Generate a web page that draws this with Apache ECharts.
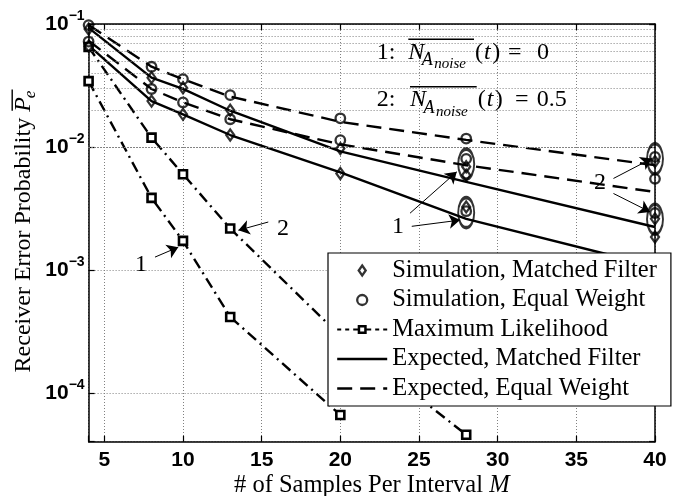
<!DOCTYPE html>
<html><head><meta charset="utf-8">
<script src="https://cdn.jsdelivr.net/npm/echarts@6/dist/echarts.min.js"></script>
<style>html,body{margin:0;padding:0;background:#fff}#c{width:681px;height:496px}</style>
</head><body><div id="c"></div>
<script>
// ---------------- data ----------------
const M = [4, 8, 10, 13, 20, 28, 40];
// expected (analytical) curves
const expEW2 = [0.098, 0.045, 0.0355, 0.0257, 0.016, 0.0114, 0.0071];
const expMF2 = [0.093, 0.0366, 0.0297, 0.0197, 0.0092, 0.0052, 0.00223];
const expEW1 = [0.073, 0.0296, 0.023, 0.0168, 0.0105, 0.0071, 0.0043];
const expMF1 = [0.067, 0.0236, 0.0184, 0.0125, 0.0062, 0.0026, 0.00107];
// maximum likelihood curves
const mlM1 = [4, 8, 10, 13, 20];
const ml1 = [0.0343, 0.00385, 0.00172, 0.000414, 0.000066];
const mlM2 = [4, 8, 10, 13, 20, 28];
const ml2 = [0.065, 0.0119, 0.006, 0.00217, 0.00029, 0.0000456];
// simulation markers
const simEW2 = [0.098, 0.0449, 0.0356, 0.0264, 0.0171, 0.0117, 0.0083];
const simEW1 = [0.072, 0.0296, 0.023, 0.0168, 0.01135, 0.008, 0.0055];
const simMF2 = [0.091, 0.0366, 0.0303, 0.0199, 0.0097, 0.0069, 0.0076];
const simMF1 = [0.066, 0.0236, 0.0184, 0.0125, 0.00608, 0.0059, 0.0026];
const extraM = [28, 40];
const simEWx = [0.0030, 0.0029];
const simMFx = [0.00325, 0.00185];
// ellipse annotations
const ellM = [28, 28, 40, 40];
const ellV = [0.00725, 0.00292, 0.0080, 0.00258];
// arrows: from [M, P] to [M, P]
const arrowsFrom = [[24.43, 2.89e-3], [24.54, 2.26e-3], [37.36, 5.54e-3], [37.36, 4.18e-3], [15.42, 2.45e-3], [8.22, 1.27e-3]];
const arrowsTo   = [[27.4, 6.27e-3], [27.61, 2.54e-3], [39.8, 8.05e-3], [39.69, 2.96e-3], [13.52, 2.1e-3], [9.7, 1.53e-3]];
const arrowLabelText = ['1', '2', '2', '1'];
const arrowLabelPos = [[23.67, 2.26e-3], [36.51, 5.16e-3], [16.36, 2.16e-3], [7.33, 1.11e-3]];
// tick labels
const xTickLabels = [5, 10, 15, 20, 25, 30, 35, 40];
const yTickExps = [-4, -3, -2, -1];
const legendNames = ['Simulation, Matched Filter', 'Simulation, Equal Weight', 'Maximum Likelihood', 'Expected, Matched Filter', 'Expected, Equal Weight'];

// ---------------- helpers ----------------
const SERIF = '"Liberation Serif", "Times New Roman", serif';
const SANS = '"Liberation Sans", Arial, Helvetica, sans-serif';
const pair = (xs, ys) => xs.map((x, i) => [x, ys[i]]);
const minorGrid = [];
for (let d = -5; d <= -2; d++) for (let k = 2; k <= 9; k++) { const v = k * Math.pow(10, d); if (v > 4e-5 * 1.0001 && v < 0.1) minorGrid.push(+v.toPrecision(3)); }
const dotted = { color: '#808080', width: 1, type: [1, 2] };
const hollow = { color: 'rgba(0,0,0,0)', borderColor: '#000', borderWidth: 2.3 };

const ctx = document.createElement('canvas').getContext('2d');
function tw(text, size, italic) { ctx.font = (italic ? 'italic ' : '') + 'normal ' + size + 'px ' + SERIF; return ctx.measureText(text).width; }
function txt(text, x, base, size, italic) {
  return { type: 'text', x: x, y: base - 0.34 * size, silent: true, z: 100,
    style: { text: text, fontFamily: SERIF, fontSize: size, fontStyle: italic ? 'italic' : 'normal', fill: '#000', align: 'left', verticalAlign: 'middle' } };
}
function hline(x1, x2, y) { return { type: 'line', silent: true, z: 100, shape: { x1: x1, y1: y, x2: x2, y2: y }, style: { stroke: '#000', lineWidth: 1.4 } }; }

// annotation text (two formula lines)
function formulaLine(label, base, nx, parenX, eqX, valX, valText) {
  const els = [];
  els.push(txt(label, 376.7, base, 24, false));
  els.push(txt('N', nx, base, 24, true));
  els.push(txt('A', nx + 13.5, base + 6, 18, true));
  els.push(txt('noise', nx + 26, base + 8.5, 15, true));
  els.push(hline(nx, parenX - 1, base - 21.5));
  let x = parenX;
  els.push(txt('(', x, base, 24, false)); x += tw('(', 24, false) + 1;
  els.push(txt('t', x, base, 24, true)); x += tw('t', 24, true) + 1.5;
  els.push(txt(')', x, base, 24, false));
  els.push(txt('=', eqX, base, 24, false));
  els.push(txt(valText, valX, base, 24, false));
  return els;
}

// y axis title (rotated)
const yt1 = 'Receiver Error Probability ';
const w1 = tw(yt1, 24, false), wP = tw('P', 24, true), we = tw('e', 17, true);
const Wy = w1 + wP + we;
const yTitle = {
  type: 'group', x: 31.7, y: 231 + Wy / 2, rotation: Math.PI / 2, silent: true,
  children: [
    txt(yt1, 0, 0, 24, false),
    txt('P', w1, 0, 24, true),
    txt('e', w1 + wP - 1, 5, 17, true),
    hline(w1 + 1, w1 + wP + we, -19.5)
  ]
};

const graphics = [yTitle].concat(
  formulaLine('1:', 60.7, 408.3, 475, 508, 537, '0'),
  formulaLine('2:', 108.3, 410, 477.7, 515, 536.7, '0.5')
);

// legend icons
const mlIcon = 'path://M0,4L4,4L4,6L0,6Z M8,4L12,4L12,6L8,6Z M16,4L20.5,4L20.5,6L16,6Z ' +
  'M20.5,0.5L29.5,0.5L29.5,9.5L20.5,9.5Z M23,3L23,7L27,7L27,3Z ' +
  'M29.5,4L34,4L34,6L29.5,6Z M38,4L42,4L42,6L38,6Z M46,4L50,4L50,6L46,6Z';
const diamondIcon = 'path://M0,-10L7,0L0,10L-7,0Z';

// ---------------- chart ----------------
const chart = echarts.init(document.getElementById('c'), null, { renderer: 'canvas' });
const axisLine = { show: true, lineStyle: { color: '#000', width: 1.5 } };
const tick = { show: true, inside: true, length: 6, lineStyle: { color: '#000', width: 1.2 } };

const expSeries = (name, xs, ys, dashed) => ({
  type: 'line', name: name, data: pair(xs, ys), symbol: 'none', clip: false, z: 3,
  lineStyle: { color: '#000', width: 2.4, type: dashed ? [15, 8] : 'solid' }
});
const mlSeries = (xs, ys) => ({
  type: 'line', name: 'Maximum Likelihood', data: pair(xs, ys), symbol: 'rect', symbolSize: 8, clip: false, z: 4,
  lineStyle: { color: '#000', width: 2.4, type: [11, 5, 2, 5] },
  itemStyle: { color: '#fff', borderColor: '#000', borderWidth: 2.6 }
});

const option = {
  animation: false,
  backgroundColor: '#fff',
  grid: { left: 88.6, right: 26, top: 24, bottom: 54.3, show: false, containLabel: false, outerBoundsMode: 'none' },
  xAxis: [{
    type: 'value', min: 4, max: 40, splitNumber: 7, position: 'bottom',
    axisLine: axisLine, axisTick: tick,
    axisLabel: { formatter: v => xTickLabels.includes(v) ? String(v) : '', fontFamily: SANS, fontWeight: 'bold', fontSize: 21, color: '#000', margin: 8, lineHeight: 22 },
    splitLine: { show: true, lineStyle: dotted },
    name: '{a|# of Samples Per Interval }{m|M}', nameLocation: 'middle', nameGap: 32, nameMoveOverlap: false,
    nameTextStyle: { rich: {
      a: { fontFamily: SERIF, fontSize: 24.5, color: '#000', lineHeight: 24 },
      m: { fontFamily: SERIF, fontSize: 24.5, fontStyle: 'italic', color: '#000', lineHeight: 24 } } }
  }, {
    type: 'value', min: 4, max: 40, splitNumber: 7, position: 'top',
    axisLine: axisLine, axisTick: tick, axisLabel: { show: false }, splitLine: { show: false }
  }],
  yAxis: [{
    type: 'log', logBase: 10, min: 4e-5, max: 0.1, position: 'left',
    axisLine: axisLine, axisTick: tick,
    axisLabel: {
      margin: 4,
      formatter: v => { const l = Math.log10(v); const e = Math.round(l); if (Math.abs(l - e) > 1e-6 || !yTickExps.includes(e)) return ''; return '{b|10}{s|\u2212' + (-e) + '}'; },
      rich: {
        b: { fontFamily: SANS, fontWeight: 'bold', fontSize: 21, color: '#000', lineHeight: 30 },
        s: { fontFamily: SANS, fontWeight: 'bold', fontSize: 14, color: '#000', lineHeight: 14, verticalAlign: 'top' }
      }
    },
    splitLine: { show: true, lineStyle: dotted }
  }, {
    type: 'log', logBase: 10, min: 4e-5, max: 0.1, position: 'right',
    axisLine: axisLine, axisTick: tick, axisLabel: { show: false }, splitLine: { show: false }
  }],
  legend: {
    orient: 'vertical', left: 328, top: 253, z: 20,
    backgroundColor: '#fff', borderColor: '#000', borderWidth: 1.2, borderRadius: 0,
    padding: [5, 14, 5, 8], itemGap: 4.5, itemWidth: 50, itemHeight: 10,
    selectedMode: false, symbolKeepAspect: true,
    textStyle: { fontFamily: SERIF, fontSize: 24.5, color: '#000', lineHeight: 24 },
    data: [
      { name: legendNames[0], icon: diamondIcon, itemStyle: hollow },
      { name: legendNames[1], icon: 'circle', itemStyle: hollow },
      { name: legendNames[2], icon: mlIcon, itemStyle: { color: '#000', borderWidth: 0 } },
      { name: legendNames[3], itemStyle: { color: 'rgba(0,0,0,0)', borderColor: 'rgba(0,0,0,0)', borderWidth: 0 }, lineStyle: { color: '#000', width: 2.4, type: 'solid' } },
      { name: legendNames[4], itemStyle: { color: 'rgba(0,0,0,0)', borderColor: 'rgba(0,0,0,0)', borderWidth: 0 }, lineStyle: { color: '#000', width: 2.4, type: [15, 8] } }
    ]
  },
  graphic: graphics,
  series: [
    { type: 'line', name: 'minorgrid', data: [], silent: true, z: 1,
      markLine: { silent: true, symbol: 'none', animation: false, label: { show: false }, lineStyle: dotted,
        emphasis: { disabled: true }, data: minorGrid.map(v => ({ yAxis: v })) } },
    expSeries(legendNames[4], M, expEW2, true),
    expSeries(legendNames[3], M, expMF2, false),
    expSeries(legendNames[4], M, expEW1, true),
    expSeries(legendNames[3], M, expMF1, false),
    mlSeries(mlM1, ml1),
    mlSeries(mlM2, ml2),
    { type: 'scatter', name: legendNames[0], clip: false, z: 5, symbol: 'diamond', symbolSize: [8, 11], itemStyle: hollow,
      data: pair(M, simMF2).concat(pair(M, simMF1), pair(extraM, simMFx)) },
    { type: 'scatter', name: legendNames[1], clip: false, z: 5, symbol: 'circle', symbolSize: 9.5, itemStyle: hollow,
      data: pair(M, simEW2).concat(pair(M, simEW1), pair(extraM, simEWx)) },
    { type: 'scatter', name: 'ellipses', clip: false, z: 6, symbol: 'circle', symbolSize: [16, 30],
      itemStyle: { color: 'rgba(0,0,0,0)', borderColor: '#000', borderWidth: 2.6 }, data: pair(ellM, ellV) },
    { type: 'line', name: 'annotations', data: [], silent: true, z: 7,
      markLine: { silent: true, animation: false, symbol: ['none', 'arrow'], symbolSize: 11, label: { show: false },
        lineStyle: { color: '#000', width: 1, type: 'solid' }, emphasis: { disabled: true },
        data: arrowsFrom.map((f, i) => [{ coord: f }, { coord: arrowsTo[i] }]) },
      markPoint: { silent: true, animation: false, symbol: 'circle', symbolSize: 1, itemStyle: { color: 'rgba(0,0,0,0)' },
        label: { show: true, position: 'inside', formatter: p => p.name, fontFamily: SERIF, fontSize: 24, color: '#000' },
        data: arrowLabelPos.map((p, i) => ({ name: arrowLabelText[i], coord: p })) } }
  ]
};
chart.setOption(option);
</script>
</body></html>
